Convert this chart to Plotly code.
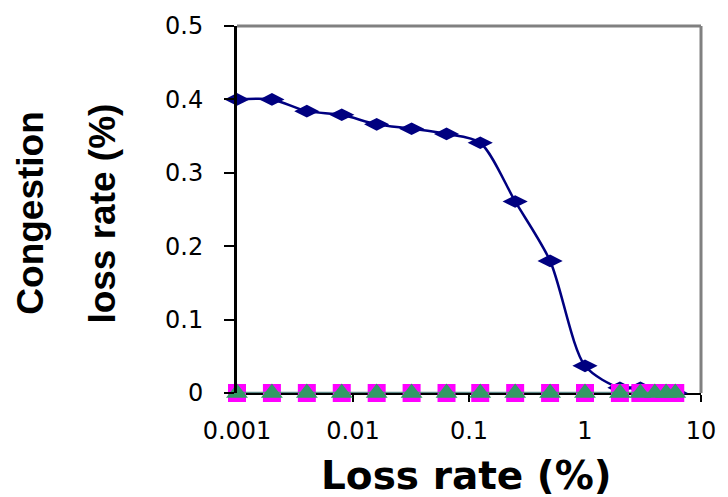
import plotly.graph_objects as go

x_vals = [0.001, 0.002, 0.004, 0.008, 0.016, 0.032, 0.064, 0.125, 0.25, 0.5, 1, 2, 3, 4, 5, 6]
congestion = [0.4, 0.4, 0.384, 0.379, 0.366, 0.36, 0.353, 0.341, 0.261, 0.18, 0.037, 0.007, 0.007, 0.002, 0.001, 0.0]
series_b = [0.0] * len(x_vals)
series_c = [0.0] * len(x_vals)

y_ticks = [0, 0.1, 0.2, 0.3, 0.4, 0.5]
y_ticktext = ["0", "0.1", "0.2", "0.3", "0.4", "0.5"]
x_ticks = [0.001, 0.01, 0.1, 1, 10]
x_ticktext = ["0.001", "0.01", "0.1", "1", "10"]

fig = go.Figure()
fig.add_trace(go.Scatter(
    x=x_vals, y=congestion, mode="lines+markers",
    line=dict(color="#000080", width=2.5, shape="spline", smoothing=0.8),
    marker=dict(symbol="diamond-wide", size=18, color="#000080"),
    cliponaxis=False, showlegend=False))
fig.add_trace(go.Scatter(
    x=x_vals, y=series_b, mode="lines+markers",
    line=dict(color="#FF00FF", width=2),
    marker=dict(symbol="square", size=18, color="#FF00FF"),
    cliponaxis=False, showlegend=False))
fig.add_trace(go.Scatter(
    x=x_vals, y=series_c, mode="lines+markers",
    line=dict(color="#5f8a8a", width=2.5),
    marker=dict(symbol="triangle-up", size=19, color="#339966"),
    cliponaxis=False, showlegend=False))

tick_font = dict(family="DejaVu Sans", size=24, color="black")

fig.update_layout(
    width=728, height=497,
    margin=dict(l=237, r=22, t=18, b=104),
    paper_bgcolor="white", plot_bgcolor="white",
    xaxis=dict(type="log", range=[-3, 1], tickvals=x_ticks, ticktext=x_ticktext,
               showline=True, linecolor="black", linewidth=2,
               ticks="outside", ticklen=7, tickwidth=2, tickcolor="black",
               showgrid=False, zeroline=False, tickfont=tick_font,
               ticklabelstandoff=8, layer="below traces"),
    yaxis=dict(range=[0, 0.5], tickvals=y_ticks, ticktext=y_ticktext,
               showline=True, linecolor="black", linewidth=3,
               ticks="outside", ticklen=10, tickwidth=2, tickcolor="black",
               showgrid=False, zeroline=False, tickfont=tick_font,
               ticklabelstandoff=16),
    shapes=[
        dict(type="line", xref="paper", yref="paper", x0=0, x1=1, y0=1, y1=1,
             line=dict(color="#808080", width=3), layer="below"),
        dict(type="line", xref="paper", yref="paper", x0=1, x1=1, y0=0, y1=1,
             line=dict(color="#808080", width=3), layer="below"),
    ],
    annotations=[
        dict(text="<b>Loss rate (%)</b>", xref="paper", yref="paper",
             x=0.495, y=-0.225, xanchor="center", yanchor="middle", showarrow=False,
             font=dict(family="DejaVu Sans", size=39, color="black")),
        dict(text="<b>Congestion</b>", xref="paper", yref="paper",
             x=-0.445, y=0.49, xanchor="center", yanchor="middle", showarrow=False,
             textangle=-90,
             font=dict(family="Liberation Sans", size=37, color="black")),
        dict(text="<b>loss rate (%)</b>", xref="paper", yref="paper",
             x=-0.29, y=0.49, xanchor="center", yanchor="middle", showarrow=False,
             textangle=-90,
             font=dict(family="Liberation Sans", size=37, color="black")),
    ],
)

fig.write_html("out.html")
